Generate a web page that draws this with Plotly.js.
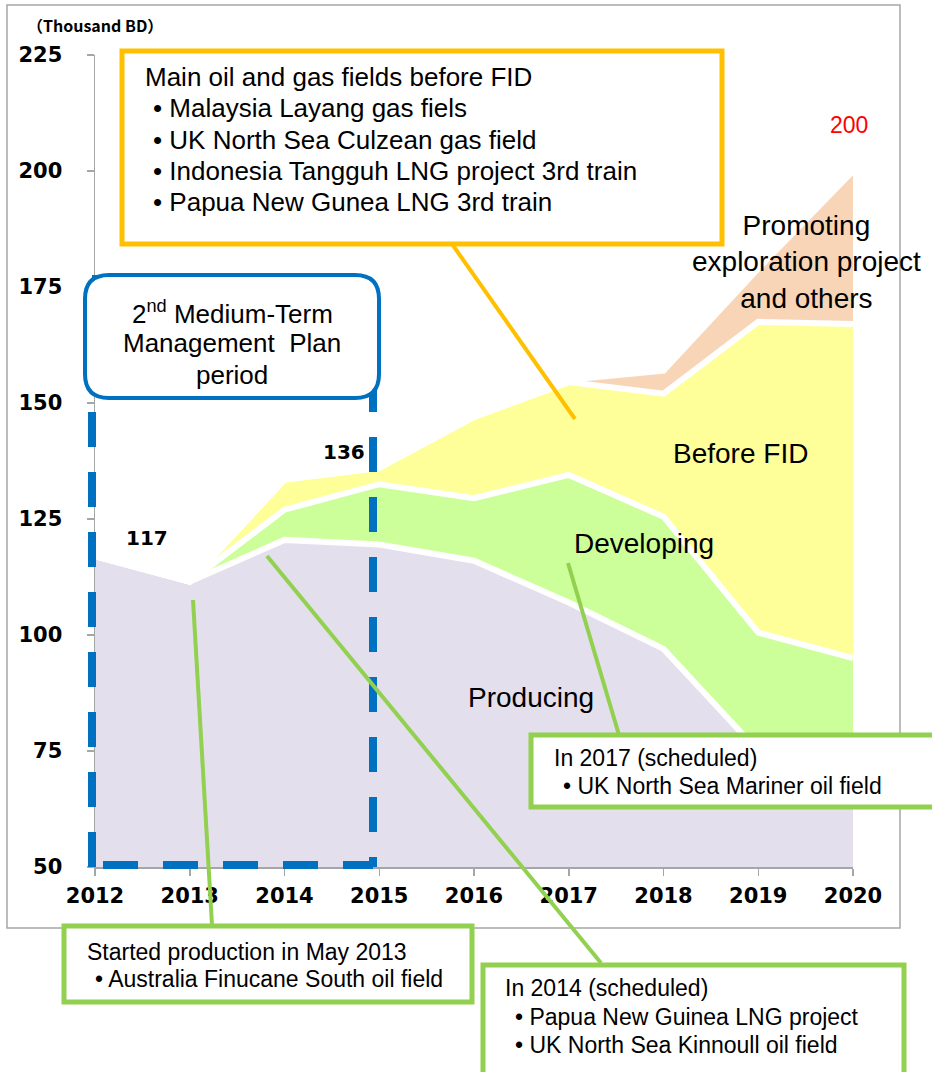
<!DOCTYPE html>
<html>
<head>
<meta charset="utf-8">
<script src="https://cdn.plot.ly/plotly-3.0.1.min.js"></script>
<style>
  html, body { margin: 0; padding: 0; background: #ffffff; }
  #chart { width: 932px; height: 1072px; }
</style>
</head>
<body>
<div id="chart"></div>
<script>
// ---------- data (thousand BD) ----------
const years = [2012, 2013, 2014, 2015, 2016, 2017, 2018, 2019, 2020];
const producing  = [117, 111.5, 120.5, 119.5, 116, 107, 97, 75, 73];
const developing = [null, 0, 6.5, 13, 13.5, 27.5, 28.5, 25.5, 22];
const beforeFID  = [null, 0, 6.5, 3.5, 17.5, 20, 26.5, 67, 72];
const promoting  = [null, null, null, null, null, 0.5, 5, 11.5, 33];
const yTicks = [50, 75, 100, 125, 150, 175, 200, 225];
const seriesNames = ['Producing', 'Developing', 'Before FID', 'Promoting exploration project and others'];
const seriesColors = ['#E4DFEC', '#CCFF99', '#FFFF99', '#F9D5B8'];
const totalLabels = [{year: 2012, text: '117'}, {year: 2015, text: '136'}, {year: 2020, text: '200'}];

// ---------- geometry helpers ----------
const W = 932, H = 1072;
const PL = 95, PR = 853, PT = 55, PB = 867;   // plot area in pixels
const fx = x => (x - PL) / (PR - PL);
const fy = y => (PB - y) / (PB - PT);

// ---------- stacked traces ----------
const layers = [producing, developing, beforeFID, promoting];
const cum = years.map(() => 0);
const traces = layers.map((vals, i) => {
  const y = vals.map((v, k) => { cum[k] += (v == null ? 0 : v); return cum[k]; });
  return {
    type: 'scatter', mode: 'lines', name: seriesNames[i],
    x: years, y: y,
    fill: i === 0 ? 'tozeroy' : 'tonexty',
    fillcolor: seriesColors[i],
    line: {color: '#ffffff', width: 6},
    hoverinfo: 'skip'
  };
});

// ---------- shapes ----------
const shapes = [];
function rectPx(x0, y0, x1, y1, color, width, fill, dash) {
  shapes.push({type: 'rect', xref: 'paper', yref: 'paper', layer: 'above',
    x0: fx(x0), x1: fx(x1), y0: fy(y1), y1: fy(y0),
    line: {color: color, width: width, dash: dash || 'solid'},
    fillcolor: fill || 'rgba(0,0,0,0)'});
}
function linePx(x0, y0, x1, y1, color, width, dash) {
  shapes.push({type: 'line', xref: 'paper', yref: 'paper', layer: 'above',
    x0: fx(x0), x1: fx(x1), y0: fy(y0), y1: fy(y1),
    line: {color: color, width: width, dash: dash || 'solid'}});
}
function roundRectPx(x0, y0, x1, y1, r, color, width, fill) {
  const X = fx, Y = fy;
  const p = `M ${X(x0 + r)},${Y(y0)} L ${X(x1 - r)},${Y(y0)} Q ${X(x1)},${Y(y0)} ${X(x1)},${Y(y0 + r)} ` +
    `L ${X(x1)},${Y(y1 - r)} Q ${X(x1)},${Y(y1)} ${X(x1 - r)},${Y(y1)} ` +
    `L ${X(x0 + r)},${Y(y1)} Q ${X(x0)},${Y(y1)} ${X(x0)},${Y(y1 - r)} ` +
    `L ${X(x0)},${Y(y0 + r)} Q ${X(x0)},${Y(y0)} ${X(x0 + r)},${Y(y0)} Z`;
  shapes.push({type: 'path', xref: 'paper', yref: 'paper', layer: 'above', path: p,
    line: {color: color, width: width}, fillcolor: fill});
}

const GREEN = '#92D050', GOLD = '#FFC000', BLUE = '#0070C0';
const DASH = '35px,25px';
// outer frame
rectPx(7, 5, 900, 928, '#A6A6A6', 1.5, null);
// plan period dashed rectangle (edges drawn separately to match dash phase)
linePx(92, 279, 373, 279, BLUE, 8, DASH);
linePx(92, 867, 92, 279, BLUE, 8, DASH);
linePx(103, 865, 373, 865, BLUE, 8, DASH);
linePx(373, 377, 373, 867, BLUE, 8, DASH);
// connectors
linePx(452, 244, 575, 419, GOLD, 4);
linePx(193, 600, 212, 925, GREEN, 4);
linePx(568, 563, 619, 735, GREEN, 4);
linePx(267, 556, 601, 963, GREEN, 4);
// boxes
rectPx(122, 51, 722, 244, GOLD, 5, '#ffffff');
roundRectPx(85, 275, 379, 398, 24, BLUE, 4, '#ffffff');
rectPx(64, 926, 472, 1002, GREEN, 5, '#ffffff');
rectPx(531, 735, 950, 807, GREEN, 5, '#ffffff');
rectPx(483, 965, 904, 1090, GREEN, 5, '#ffffff');

// ---------- annotations ----------
const SANS = 'Liberation Sans, Arial, sans-serif';
const BOLD = 'DejaVu Sans, sans-serif';
const annotations = [];
function txt(x, y, text, opts) {
  opts = opts || {};
  annotations.push({xref: 'paper', yref: 'paper', x: fx(x), y: fy(y), text: text,
    showarrow: false, xanchor: opts.xa || 'left', yanchor: 'middle', align: opts.align || 'left',
    font: {family: opts.family || SANS, size: opts.size || 23, color: opts.color || '#000000',
           weight: opts.weight || 'normal'}});
}
txt(25, 25, '（Thousand BD）', {family: 'Noto Sans CJK JP, DejaVu Sans, sans-serif', size: 16, weight: 'bold'});

// category labels
txt(531, 697, seriesNames[0], {xa: 'center', size: 28, align: 'center'});
txt(644, 543, seriesNames[1], {xa: 'center', size: 28, align: 'center'});
txt(740, 453, seriesNames[2], {xa: 'center', size: 28, align: 'center'});
txt(806, 262, 'Promoting<br>exploration project<br>and others', {xa: 'center', size: 28, align: 'center'});

// totals
txt(147, 538, totalLabels[0].text, {xa: 'center', family: BOLD, size: 20, weight: 'bold'});
txt(344, 452, totalLabels[1].text, {xa: 'center', family: BOLD, size: 20, weight: 'bold'});
txt(849, 125, totalLabels[2].text, {xa: 'center', size: 23, color: '#FF0000'});

// yellow box
txt(143, 77, 'Main oil and gas fields before FID', {size: 26});
txt(151, 108, '• Malaysia Layang gas fiels', {size: 26});
txt(151, 140, '• UK North Sea Culzean gas field', {size: 26});
txt(151, 171, '• Indonesia Tangguh LNG project 3rd train', {size: 26});
txt(151, 202, '• Papua New Gunea LNG 3rd train', {size: 26});

// blue box
txt(232, 312, '2<sup>nd</sup> Medium-Term', {xa: 'center', size: 26, align: 'center'});
txt(232, 343, 'Management\u00A0\u00A0Plan', {xa: 'center', size: 26, align: 'center'});
txt(232, 375, 'period', {xa: 'center', size: 26, align: 'center'});

// green boxes
txt(85, 952, 'Started production in May 2013');
txt(93, 979, '• Australia Finucane South oil field');
txt(552, 758, 'In 2017 (scheduled)');
txt(561, 786, '• UK North Sea Mariner oil field');
txt(503, 988, 'In 2014 (scheduled)');
txt(513, 1017, '• Papua New Guinea LNG project');
txt(513, 1045, '• UK North Sea Kinnoull oil field');

// ---------- layout ----------
const axisCommon = {
  showgrid: false, zeroline: false, showline: true, linecolor: '#A6A6A6', linewidth: 1.5,
  ticks: 'outside', ticklen: 7, tickcolor: '#A6A6A6', tickwidth: 1.5,
  tickfont: {family: BOLD, size: 21, color: '#000000', weight: 'bold'},
  fixedrange: true
};
const layout = {
  width: W, height: H,
  margin: {l: PL, r: W - PR, t: PT, b: H - PB, pad: 0},
  paper_bgcolor: '#ffffff', plot_bgcolor: 'rgba(0,0,0,0)',
  showlegend: false,
  xaxis: Object.assign({}, axisCommon, {range: [2012, 2020], tickvals: years, ticklabelstandoff: 2}),
  yaxis: Object.assign({}, axisCommon, {range: [50, 225], tickvals: yTicks, ticklabelstandoff: 20}),
  shapes: shapes,
  annotations: annotations
};
Plotly.newPlot('chart', traces, layout, {staticPlot: true, displayModeBar: false});
</script>
</body>
</html>
